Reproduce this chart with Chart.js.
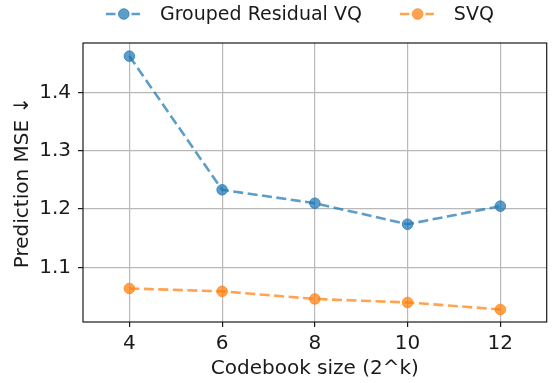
<!DOCTYPE html>
<html>
<head>
<meta charset="utf-8">
<script src="https://cdn.jsdelivr.net/npm/chart.js@4.4.1/dist/chart.umd.min.js"></script>
<style>
  html, body { margin:0; padding:0; background:#fff; }
</style>
</head>
<body>
<canvas id="chart" width="553" height="383"></canvas>
<script>
/* ── data ── */
const CODEBOOK_K   = [4, 6, 8, 10, 12];
const GROUPED_RVQ  = [1.462, 1.233, 1.210, 1.174, 1.205];
const SVQ          = [1.064, 1.059, 1.046, 1.040, 1.028];
const X_TICKS      = [4, 6, 8, 10, 12];
const Y_TICKS      = [1.1, 1.2, 1.3, 1.4];
const SERIES_NAMES = ['Grouped Residual VQ', 'SVQ'];

/* ── style ── */
const FONT  = '"DejaVu Sans", sans-serif';
const FS    = 20;     // ticks + axis titles
const LFS   = 19;     // legend
const BLUE  = 'rgba(31,119,180,0.72)';
const ORNG  = 'rgba(255,127,14,0.72)';
const GRID  = '#b9b9b9';
const INK   = '#1a1a1a';

const pts = ys => CODEBOOK_K.map((x, i) => ({ x, y: ys[i] }));

function series(label, ys, color){
  return {
    label,
    data: pts(ys),
    borderColor: color,
    backgroundColor: color,
    borderWidth: 2.6,
    borderDash: [10, 4.5],
    pointRadius: 5.3,
    pointBorderWidth: 1,
    pointBackgroundColor: color,
    pointBorderColor: color,
    tension: 0
  };
}

/* 축 테두리(4면) */
const frame = {
  id: 'frame',
  afterDraw(chart){
    const { ctx, chartArea: a } = chart;
    ctx.save();
    ctx.strokeStyle = INK;
    ctx.lineWidth = 1.2;
    ctx.strokeRect(a.left, a.top, a.right - a.left, a.bottom - a.top);
    ctx.restore();
  }
};

/* 범례: 선 + 마커 + 텍스트 (상단) */
const lineLegend = {
  id: 'lineLegend',
  afterDraw(chart){
    const { ctx } = chart;
    const ds = chart.data.datasets;
    const y = 14;
    let x = 106;
    ctx.save();
    ctx.font = `${LFS}px ${FONT}`;
    ctx.textBaseline = 'middle';
    ds.forEach(d => {
      ctx.strokeStyle = d.borderColor;
      ctx.lineWidth = 2.6;
      ctx.beginPath();
      ctx.moveTo(x, y); ctx.lineTo(x + 9.5, y);
      ctx.moveTo(x + 25.5, y); ctx.lineTo(x + 34, y);
      ctx.stroke();
      ctx.fillStyle = d.borderColor;
      ctx.beginPath();
      ctx.arc(x + 17.8, y, 5.3, 0, Math.PI * 2);
      ctx.fill();
      ctx.lineWidth = 1;
      ctx.stroke();
      ctx.fillStyle = INK;
      ctx.fillText(d.label, x + 54, y + 1);
      x += 54 + ctx.measureText(d.label).width + 38;
    });
    ctx.restore();
  }
};

new Chart(document.getElementById('chart'), {
  type: 'line',
  data: {
    datasets: [
      series(SERIES_NAMES[0], GROUPED_RVQ, BLUE),
      series(SERIES_NAMES[1], SVQ, ORNG)
    ]
  },
  plugins: [frame, lineLegend],
  options: {
    responsive: false,
    animation: false,
    layout: { padding: { top: 43, right: 2, left: 0, bottom: 0 } },
    plugins: { legend: { display: false }, tooltip: { enabled: false } },
    scales: {
      x: {
        type: 'linear',
        min: 3, max: 13,
        afterBuildTicks: s => { s.ticks = X_TICKS.map(v => ({ value: v })); },
        afterFit: s => { s.height = 61; },
        grid: { color: GRID, lineWidth: 1.2, tickLength: 5, tickColor: INK, tickWidth: 1.2 },
        border: { display: false },
        ticks: { color: INK, padding: 5, font: { family: FONT, size: FS }, maxRotation: 0 },
        title: { display: true, text: 'Codebook size (2^k)', color: INK,
                 font: { family: FONT, size: FS }, padding: { top: 0, bottom: 2.5 } }
      },
      y: {
        min: 1.0065, max: 1.4845,
        afterBuildTicks: s => { s.ticks = Y_TICKS.map(v => ({ value: v })); },
        afterFit: s => { s.width = 83; },
        grid: { color: GRID, lineWidth: 1.2, tickLength: 5, tickColor: INK, tickWidth: 1.2 },
        border: { display: false },
        ticks: { color: INK, padding: 7, font: { family: FONT, size: FS },
                 callback: v => v.toFixed(1) },
        title: { display: true, text: 'Prediction MSE ↓', color: INK,
                 font: { family: FONT, size: FS }, padding: { top: 10.5, bottom: 0 } }
      }
    }
  }
});
</script>
</body>
</html>
